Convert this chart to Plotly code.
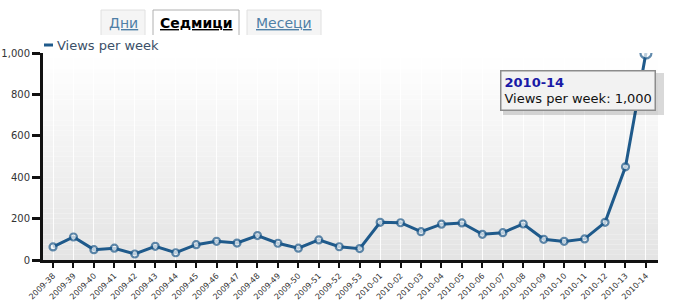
import plotly.graph_objects as go

weeks = ["2009-38", "2009-39", "2009-40", "2009-41", "2009-42", "2009-43", "2009-44",
         "2009-45", "2009-46", "2009-47", "2009-48", "2009-49", "2009-50", "2009-51",
         "2009-52", "2009-53", "2010-01", "2010-02", "2010-03", "2010-04", "2010-05",
         "2010-06", "2010-07", "2010-08", "2010-09", "2010-10", "2010-11", "2010-12",
         "2010-13", "2010-14"]
views = [63, 111, 50, 57, 29, 66, 35, 74, 90, 82, 118, 81, 57, 97, 64, 55,
         182, 180, 137, 173, 179, 124, 132, 174, 100, 90, 102, 182, 450, 1000]
series_name = "Views per week"
tabs = ["Дни", "Седмици", "Месеци"]
active_tab = "Седмици"

W, H = 673, 300
L, R, T, B = 43, 15, 53, 40
PW, PH = W - L - R, H - T - B
LINE = "#1f5a8b"
FONT = "DejaVu Sans, Verdana, sans-serif"


def px(x):
    return (x - L) / PW


def py(y):
    return (H - B - y) / PH


fig = go.Figure()
sizes = [7] * (len(views) - 1) + [11]
fig.add_trace(go.Scatter(
    x=weeks, y=views, mode="lines+markers", name=series_name,
    line=dict(color=LINE, width=3),
    marker=dict(size=sizes, color="#ffffff", line=dict(color=LINE, width=2.2)),
    showlegend=False, hoverinfo="skip",
))

shapes = []
# gradient background of plot area
n = 40
for i in range(n):
    t = i / (n - 1)
    c = int(round(255 - t * (255 - 228)))
    shapes.append(dict(type="rect", xref="paper", yref="paper",
                       x0=0, x1=1, y0=1 - (i + 1) / n, y1=1 - i / n,
                       fillcolor=f"rgb({c},{c},{c})", line=dict(width=0), layer="below"))

# tabs
tab_boxes = [(101, 145), (153, 239), (247, 321)]
for name, (x0, x1) in zip(tabs, tab_boxes):
    active = name == active_tab
    y0, y1 = 10, 35
    path = f"M {px(x0)},{py(y1)} L {px(x0)},{py(y0)} L {px(x1)},{py(y0)} L {px(x1)},{py(y1)}"
    shapes.append(dict(type="path", xref="paper", yref="paper", path=path,
                       fillcolor="#ffffff" if active else "#f5f5f5",
                       line=dict(color="#b0b0b0" if active else "#e0e0e0", width=1)))

# legend symbol
shapes.append(dict(type="line", xref="paper", yref="paper",
                   x0=px(44), x1=px(53), y0=py(45), y1=py(45),
                   line=dict(color=LINE, width=3)))

# tooltip shadow
shapes.append(dict(type="rect", xref="paper", yref="paper",
                   x0=px(503), x1=px(664), y0=py(115), y1=py(73),
                   fillcolor="rgba(0,0,0,0.15)", line=dict(width=0)))

annotations = []
for name, (x0, x1) in zip(tabs, tab_boxes):
    active = name == active_tab
    txt = f"<b><u>{name}</u></b>" if active else f"<u>{name}</u>"
    annotations.append(dict(xref="paper", yref="paper", x=px((x0 + x1) / 2), y=py(23),
                            text=txt, showarrow=False, xanchor="center", yanchor="middle",
                            font=dict(family=FONT, size=14,
                                      color="#000000" if active else "#4f7fa6")))

annotations.append(dict(xref="paper", yref="paper", x=px(55), y=py(45),
                        text=series_name, showarrow=False, xanchor="left", yanchor="middle",
                        font=dict(family=FONT, size=13, color="#3b5068")))

annotations.append(dict(xref="paper", yref="paper", x=px(500), y=py(70),
                        text=f"<span style='color:#1a1aa6'><b>{weeks[-1]}</b></span><br>"
                             f"{series_name}: {views[-1]:,}",
                        showarrow=False, xanchor="left", yanchor="top", align="left",
                        bgcolor="#f2f2f2", bordercolor="#8c8c8c", borderwidth=1.5,
                        borderpad=3,
                        font=dict(family=FONT, size=13, color="#111111")))

fig.update_layout(
    width=W, height=H, margin=dict(l=L, r=R, t=T, b=B, autoexpand=False),
    paper_bgcolor="#ffffff", plot_bgcolor="rgba(0,0,0,0)",
    font=dict(family=FONT, color="#333333"),
    shapes=shapes, annotations=annotations,
    xaxis=dict(type="category", range=[-0.49, len(weeks) - 1 + 0.59],
               showgrid=True, gridcolor="rgba(255,255,255,0.9)", gridwidth=1,
               showline=True, linecolor="#111111", linewidth=3,
               ticks="outside", ticklen=5, tickwidth=2, tickcolor="#111111",
               tickangle=-45, tickfont=dict(size=8, color="#333333"),
               fixedrange=True, zeroline=False, automargin=False),
    yaxis=dict(range=[0, 1000], dtick=200, tickformat=",d",
               showgrid=False, showline=True, linecolor="#111111", linewidth=3,
               ticks="outside", ticklen=8, tickwidth=3, tickcolor="#111111",
               tickfont=dict(size=10, color="#333333"), zeroline=False,
               fixedrange=True, automargin=False),
)

fig.write_html("out.html")
